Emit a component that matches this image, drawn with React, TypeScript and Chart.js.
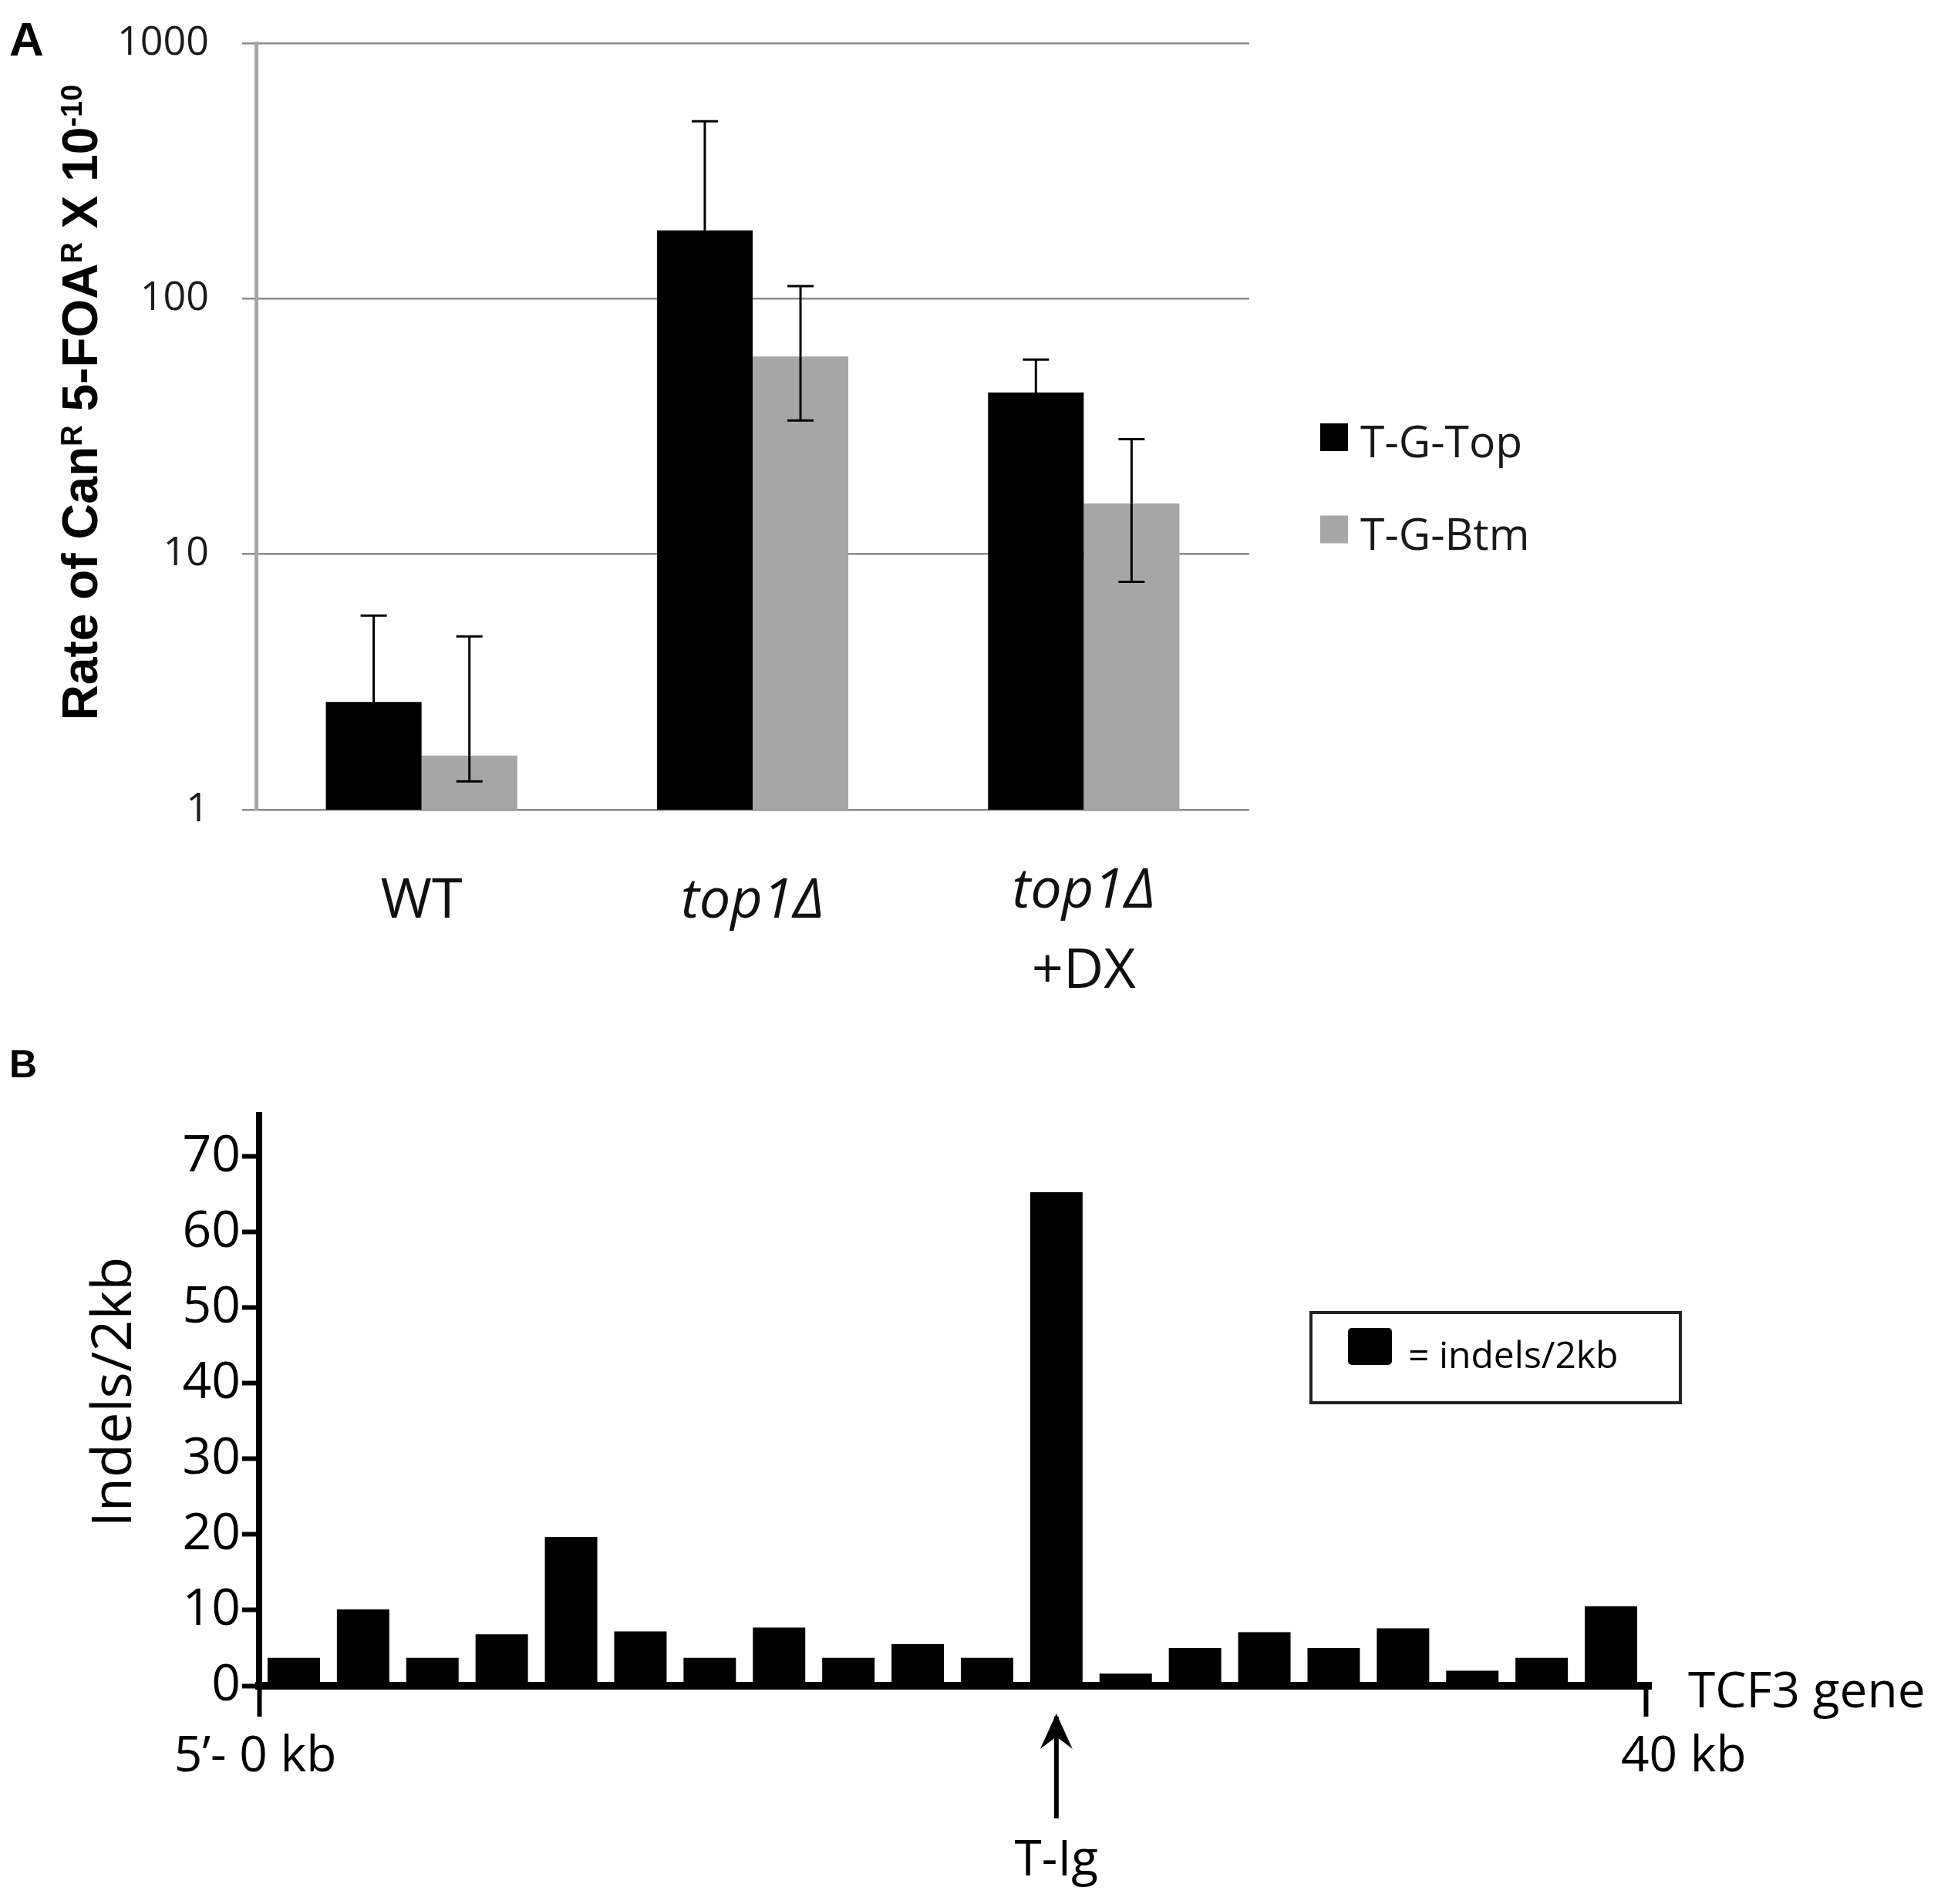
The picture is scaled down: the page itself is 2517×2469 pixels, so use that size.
import React, { useEffect, useRef } from 'react';
import { Chart, registerables } from 'chart.js';

Chart.register(...registerables);

const PAGE_W = 2517;
const H_A = 1330;
const H_B = 1139;
const SANS = "'Open Sans', 'Noto Sans', 'DejaVu Sans', sans-serif";
const BOLD_SANS = "'Liberation Sans', Arial, 'DejaVu Sans', sans-serif";

// ---------- Panel A data ----------
const strainLines: string[][] = [['WT'], ['top1Δ'], ['top1Δ', '+DX']];
const seriesLabels = ['T-G-Top', 'T-G-Btm'];
const seriesColors = ['#000000', '#a6a6a6'];
const topRates = [2.64, 185, 42.9];
const btmRates = [1.63, 59.4, 15.8];
const topErrHigh = [5.75, 495, 57.8];
const topErrLow: (number | null)[] = [null, null, null];
const btmErrHigh = [4.77, 112, 28.2];
const btmErrLow: (number | null)[] = [1.29, 33.4, 7.8];
const rateTicks = [1, 10, 100, 1000];
const rateTitle: { t: string; sup: boolean }[] = [
  { t: 'Rate of Can', sup: false },
  { t: 'R', sup: true },
  { t: ' 5-FOA', sup: false },
  { t: 'R', sup: true },
  { t: ' X 10', sup: false },
  { t: '-10', sup: true },
];
const panelALetter = 'A';

// ---------- Panel B data ----------
const binCentersKb = [1, 3, 5, 7, 9, 11, 13, 15, 17, 19, 21, 23, 25, 27, 29, 31, 33, 35, 37, 39];
const indelsPer2kb = [3.7, 10.1, 3.7, 6.8, 19.7, 7.2, 3.7, 7.7, 3.7, 5.5, 3.7, 65.3, 1.6, 5.0, 7.1, 5.0, 7.6, 2.0, 3.7, 10.5];
const indelTicks = [0, 10, 20, 30, 40, 50, 60, 70];
const kbTicks = [0, 40];
const kbTickLabels = ['5’- 0 kb', '40 kb'];
const indelTitle = 'Indels/2kb';
const indelSeriesLabel = 'indels/2kb';
const geneLabel = 'TCF3 gene';
const markerKb = 23;
const markerLabel = 'T-Ig';
const panelBLetter = 'B';

const isGeneName = (s: string) => /^top1/.test(s);

const panelAPlugin = {
  id: 'panelAExtras',
  afterDatasetsDraw(chart: any) {
    const ctx = chart.ctx;
    const y = chart.scales.y;
    const highs = [topErrHigh, btmErrHigh];
    const lows = [topErrLow, btmErrLow];
    ctx.save();
    ctx.strokeStyle = '#000';
    ctx.lineWidth = 3;
    const cap = 17;
    for (let d = 0; d < 2; d++) {
      const meta = chart.getDatasetMeta(d);
      meta.data.forEach((bar: any, i: number) => {
        const hi = highs[d][i];
        const lo = lows[d][i];
        const drawTo = (v: number) => {
          const py = y.getPixelForValue(v);
          ctx.beginPath();
          ctx.moveTo(bar.x, bar.y);
          ctx.lineTo(bar.x, py);
          ctx.moveTo(bar.x - cap, py);
          ctx.lineTo(bar.x + cap, py);
          ctx.stroke();
        };
        if (hi != null) drawTo(hi);
        if (lo != null) drawTo(lo);
      });
    }
    ctx.restore();
  },
  afterDraw(chart: any) {
    const ctx = chart.ctx;
    const area = chart.chartArea;
    const x = chart.scales.x;
    ctx.save();

    // y-axis title (rotated, with superscripts)
    const mainFont = `bold 64px ${BOLD_SANS}`;
    const supFont = `bold 38px ${BOLD_SANS}`;
    let total = 0;
    rateTitle.forEach((s) => {
      ctx.font = s.sup ? supFont : mainFont;
      total += ctx.measureText(s.t).width;
    });
    ctx.translate(126, (area.top + area.bottom) / 2 - 31);
    ctx.rotate(-Math.PI / 2);
    ctx.fillStyle = '#000';
    ctx.textBaseline = 'alphabetic';
    ctx.textAlign = 'left';
    let cx = -total / 2;
    rateTitle.forEach((s) => {
      ctx.font = s.sup ? supFont : mainFont;
      ctx.fillText(s.t, cx, s.sup ? -20 : 0);
      cx += ctx.measureText(s.t).width;
    });
    ctx.setTransform(1, 0, 0, 1, 0, 0);

    // category labels
    ctx.fillStyle = '#111';
    ctx.textAlign = 'center';
    strainLines.forEach((lines, i) => {
      const px = x.getPixelForValue(i);
      const first = lines.length === 1 ? area.bottom + 140 : area.bottom + 127;
      lines.forEach((ln, k) => {
        ctx.font = `${isGeneName(ln) ? 'italic ' : ''}72px ${SANS}`;
        ctx.fillText(ln, px, first + k * 104);
      });
    });

    // legend
    ctx.textAlign = 'left';
    ctx.font = `57px ${SANS}`;
    chart.data.datasets.forEach((ds: any, i: number) => {
      const cy = 567 + i * 119.5;
      const sx = area.right + 92;
      ctx.fillStyle = ds.backgroundColor;
      ctx.fillRect(sx, cy - 18, 36, 36);
      ctx.fillStyle = '#1a1a1a';
      ctx.fillText(ds.label, sx + 52, cy + 26);
    });

    // panel letter
    ctx.fillStyle = '#000';
    ctx.font = `bold 62px ${BOLD_SANS}`;
    ctx.fillText(panelALetter, 12, 72);
    ctx.restore();
  },
};

const panelBPlugin = {
  id: 'panelBExtras',
  afterDraw(chart: any) {
    const ctx = chart.ctx;
    const area = chart.chartArea;
    const x = chart.scales.x;
    ctx.save();
    ctx.fillStyle = '#000';
    ctx.strokeStyle = '#000';

    // y title
    ctx.translate(170, (area.top + area.bottom) / 2 - 11);
    ctx.rotate(-Math.PI / 2);
    ctx.font = `72px ${SANS}`;
    ctx.textAlign = 'center';
    ctx.textBaseline = 'alphabetic';
    ctx.fillText(indelTitle, 0, 0);
    ctx.setTransform(1, 0, 0, 1, 0, 0);

    // axis line overhang to the right
    ctx.lineWidth = 10;
    ctx.beginPath();
    ctx.moveTo(area.right - 2, area.bottom);
    ctx.lineTo(area.right + 8, area.bottom);
    ctx.stroke();

    // x tick labels
    ctx.font = `64px ${SANS}`;
    ctx.textAlign = 'center';
    ctx.fillText(kbTickLabels[0], x.getPixelForValue(kbTicks[0]) - 5, area.bottom + 111);
    ctx.textAlign = 'left';
    ctx.fillText(kbTickLabels[1], x.getPixelForValue(kbTicks[1]) - 32, area.bottom + 111);

    // gene label
    ctx.fillText(geneLabel, area.right + 55, area.bottom + 28);

    // arrow marker
    const ax = x.getPixelForValue(markerKb);
    const tip = area.bottom + 36;
    ctx.lineWidth = 6;
    ctx.beginPath();
    ctx.moveTo(ax, tip + 4);
    ctx.lineTo(ax, area.bottom + 172);
    ctx.stroke();
    ctx.beginPath();
    ctx.moveTo(ax, tip);
    ctx.lineTo(ax - 21, tip + 46);
    ctx.lineTo(ax, tip + 30);
    ctx.lineTo(ax + 21, tip + 46);
    ctx.closePath();
    ctx.fill();
    ctx.textAlign = 'center';
    ctx.fillText(markerLabel, ax, area.bottom + 246);

    // legend box
    const bx = area.right - 434;
    const by = area.top + 256;
    ctx.lineWidth = 4;
    ctx.strokeStyle = '#222';
    ctx.strokeRect(bx, by, 479, 117);
    const ds = chart.data.datasets[0];
    ctx.fillStyle = ds.backgroundColor;
    ctx.beginPath();
    (ctx as any).roundRect ? (ctx as any).roundRect(bx + 48, by + 20, 57, 48, 5) : ctx.rect(bx + 48, by + 20, 57, 48);
    ctx.fill();
    ctx.fillStyle = '#000';
    ctx.textAlign = 'left';
    ctx.font = `48px ${SANS}`;
    ctx.fillText('= ' + ds.label, bx + 126, by + 72);

    // panel letter
    ctx.font = `bold 50px ${BOLD_SANS}`;
    ctx.fillText(panelBLetter, 12, 67);
    ctx.restore();
  },
};

function PanelA() {
  const ref = useRef<HTMLCanvasElement>(null);
  useEffect(() => {
    if (!ref.current) return;
    const chart = new Chart(ref.current, {
      type: 'bar',
      data: {
        labels: strainLines.map((l) => l.join(' ')),
        datasets: [
          { label: seriesLabels[0], data: topRates, backgroundColor: seriesColors[0], categoryPercentage: 0.578, barPercentage: 1 },
          { label: seriesLabels[1], data: btmRates, backgroundColor: seriesColors[1], categoryPercentage: 0.578, barPercentage: 1 },
        ],
      },
      options: {
        responsive: false,
        animation: false,
        devicePixelRatio: 1,
        layout: { padding: { top: 56, right: PAGE_W - 1620, left: 0, bottom: 0 } },
        plugins: { legend: { display: false }, tooltip: { enabled: false } },
        scales: {
          x: {
            type: 'category',
            grid: { display: false },
            border: { display: false },
            ticks: { display: false },
            afterFit: (s: any) => { s.height = H_A - 1050; },
          },
          y: {
            type: 'logarithmic',
            min: 1,
            max: 1000,
            afterBuildTicks: (s: any) => { s.ticks = rateTicks.map((v) => ({ value: v })); },
            afterFit: (s: any) => { s.width = 332; s.paddingTop = 0; s.paddingBottom = 0; },
            ticks: {
              callback: (v: any) => String(v),
              font: { family: SANS, size: 52 },
              color: '#1a1a1a',
              padding: 43,
            },
            grid: { color: '#8c8c8c', lineWidth: 2.5, tickLength: 18, drawTicks: true },
            border: { color: '#a6a6a6', width: 5 },
          },
        },
      } as any,
      plugins: [panelAPlugin],
    });
    return () => chart.destroy();
  }, []);
  return <canvas ref={ref} width={PAGE_W} height={H_A} style={{ display: 'block', width: PAGE_W, height: H_A }} />;
}

function PanelB() {
  const ref = useRef<HTMLCanvasElement>(null);
  useEffect(() => {
    if (!ref.current) return;
    const chart = new Chart(ref.current, {
      type: 'bar',
      data: {
        datasets: [
          {
            label: indelSeriesLabel,
            data: binCentersKb.map((kb, i) => ({ x: kb, y: indelsPer2kb[i] })),
            backgroundColor: '#000000',
            barPercentage: 0.756,
            categoryPercentage: 1,
          },
        ],
      },
      options: {
        responsive: false,
        animation: false,
        devicePixelRatio: 1,
        layout: { padding: { top: 116, right: PAGE_W - 2134, left: 0, bottom: 0 } },
        plugins: { legend: { display: false }, tooltip: { enabled: false } },
        scales: {
          x: {
            type: 'linear',
            min: 0,
            max: 40,
            offset: false,
            afterBuildTicks: (s: any) => { s.ticks = kbTicks.map((v) => ({ value: v })); },
            afterFit: (s: any) => { s.height = H_B - 856; },
            ticks: { display: false },
            grid: { offset: false, drawOnChartArea: false, drawTicks: true, tickLength: 40, tickWidth: 6, color: '#000' },
            border: { color: '#000', width: 10 },
          },
          y: {
            type: 'linear',
            min: 0,
            max: 75.5,
            afterBuildTicks: (s: any) => { s.ticks = indelTicks.map((v) => ({ value: v })); },
            afterFit: (s: any) => { s.width = 336; s.paddingTop = 0; s.paddingBottom = 0; },
            ticks: { font: { family: SANS, size: 66 }, color: '#000', padding: 2 },
            grid: { drawOnChartArea: false, drawTicks: true, tickLength: 22, tickWidth: 6, color: '#000' },
            border: { color: '#000', width: 8 },
          },
        },
      } as any,
      plugins: [panelBPlugin],
    });
    return () => chart.destroy();
  }, []);
  return <canvas ref={ref} width={PAGE_W} height={H_B} style={{ display: 'block', width: PAGE_W, height: H_B }} />;
}

export default function App() {
  return (
    <div style={{ position: 'absolute', left: 0, top: 0, width: PAGE_W, height: H_A + H_B, background: '#fff' }}>
      <PanelA />
      <PanelB />
    </div>
  );
}
